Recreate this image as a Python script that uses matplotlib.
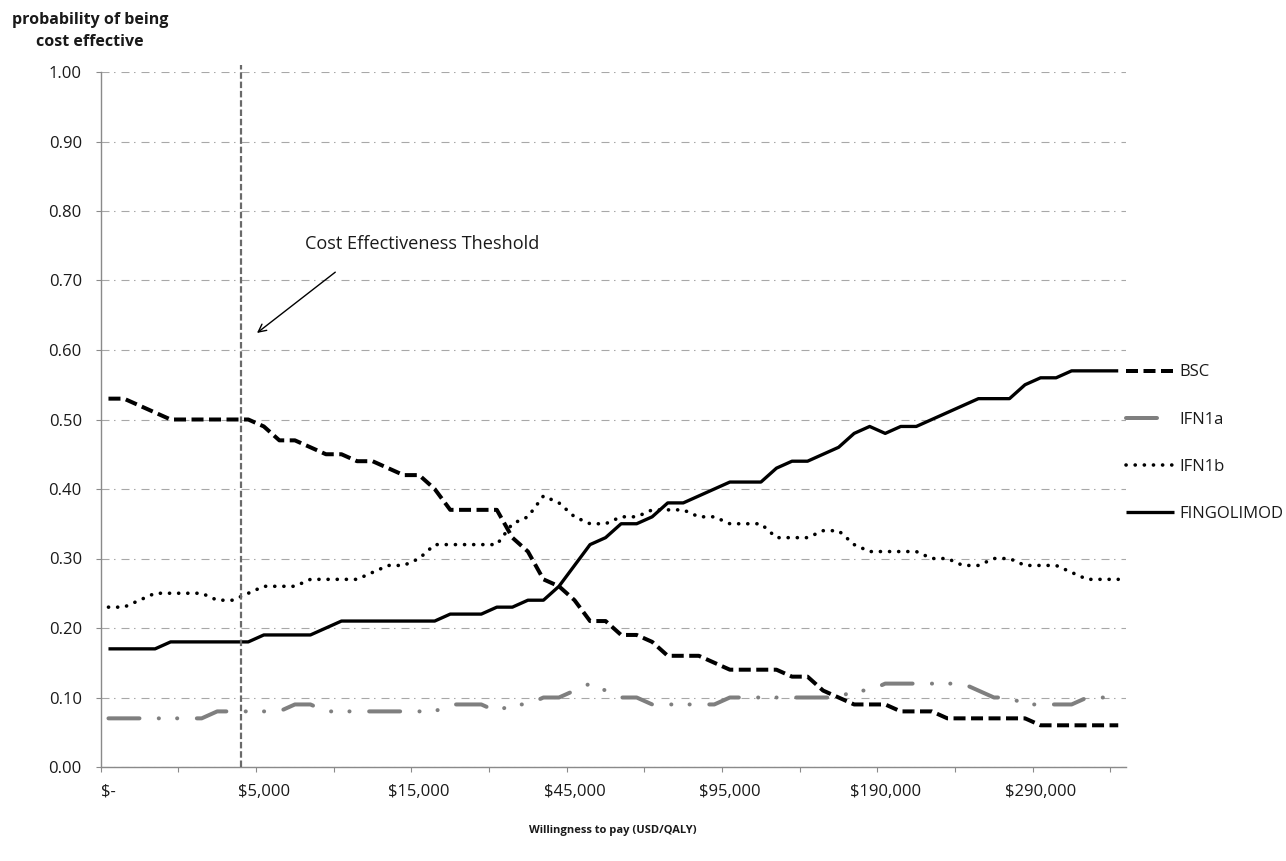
import matplotlib
matplotlib.use("Agg")
import matplotlib.pyplot as plt
import numpy as np

plt.rcParams['font.family'] = ['Open Sans', 'DejaVu Sans']
plt.rcParams['lines.scale_dashes'] = False

# ---------------- data ----------------
tick_positions = [0, 10, 20, 30, 40, 50, 60]
tick_labels = ["$-", "$5,000", "$15,000", "$45,000", "$95,000", "$190,000", "$290,000"]
n_categories = 66

bsc = [0.53, 0.53, 0.52, 0.51, 0.50, 0.50, 0.50, 0.50, 0.50, 0.50,
       0.49, 0.47, 0.47, 0.46, 0.45, 0.45, 0.44, 0.44, 0.43, 0.42,
       0.42, 0.40, 0.37, 0.37, 0.37, 0.37, 0.33, 0.31, 0.27, 0.26,
       0.24, 0.21, 0.21, 0.19, 0.19, 0.18, 0.16, 0.16, 0.16, 0.15,
       0.14, 0.14, 0.14, 0.14, 0.13, 0.13, 0.11, 0.10, 0.09, 0.09,
       0.09, 0.08, 0.08, 0.08, 0.07, 0.07, 0.07, 0.07, 0.07, 0.07,
       0.06, 0.06, 0.06, 0.06, 0.06, 0.06]

ifn1a = [0.07, 0.07, 0.07, 0.07, 0.07, 0.07, 0.07, 0.08, 0.08, 0.08,
         0.08, 0.08, 0.09, 0.09, 0.08, 0.08, 0.08, 0.08, 0.08, 0.08,
         0.08, 0.08, 0.09, 0.09, 0.09, 0.08, 0.09, 0.09, 0.10, 0.10,
         0.11, 0.12, 0.11, 0.10, 0.10, 0.09, 0.09, 0.09, 0.09, 0.09,
         0.10, 0.10, 0.10, 0.10, 0.10, 0.10, 0.10, 0.10, 0.11, 0.11,
         0.12, 0.12, 0.12, 0.12, 0.12, 0.12, 0.11, 0.10, 0.10, 0.09,
         0.09, 0.09, 0.09, 0.10, 0.10, 0.10]

ifn1b = [0.23, 0.23, 0.24, 0.25, 0.25, 0.25, 0.25, 0.24, 0.24, 0.25,
         0.26, 0.26, 0.26, 0.27, 0.27, 0.27, 0.27, 0.28, 0.29, 0.29,
         0.30, 0.32, 0.32, 0.32, 0.32, 0.32, 0.35, 0.36, 0.39, 0.38,
         0.36, 0.35, 0.35, 0.36, 0.36, 0.37, 0.37, 0.37, 0.36, 0.36,
         0.35, 0.35, 0.35, 0.33, 0.33, 0.33, 0.34, 0.34, 0.32, 0.31,
         0.31, 0.31, 0.31, 0.30, 0.30, 0.29, 0.29, 0.30, 0.30, 0.29,
         0.29, 0.29, 0.28, 0.27, 0.27, 0.27]

fingolimod = [0.17, 0.17, 0.17, 0.17, 0.18, 0.18, 0.18, 0.18, 0.18, 0.18,
              0.19, 0.19, 0.19, 0.19, 0.20, 0.21, 0.21, 0.21, 0.21, 0.21,
              0.21, 0.21, 0.22, 0.22, 0.22, 0.23, 0.23, 0.24, 0.24, 0.26,
              0.29, 0.32, 0.33, 0.35, 0.35, 0.36, 0.38, 0.38, 0.39, 0.40,
              0.41, 0.41, 0.41, 0.43, 0.44, 0.44, 0.45, 0.46, 0.48, 0.49,
              0.48, 0.49, 0.49, 0.50, 0.51, 0.52, 0.53, 0.53, 0.53, 0.55,
              0.56, 0.56, 0.57, 0.57, 0.57, 0.57]

threshold_category = 8.5
annotation_text = "Cost Effectiveness Theshold"

# ---------------- figure ----------------
PT = 0.72  # points per pixel at dpi=100
fig = plt.figure(figsize=(12.86, 8.61), dpi=100)
ax = fig.add_axes([100.7 / 1286, 94 / 861, (1126 - 100.7) / 1286, 695 / 861])

x = np.arange(n_categories)
text_color = '#1a1a1a'
axis_color = '#8a8a8a'

ax.plot(x, bsc, color='black', lw=4 * PT, dashes=(12 * PT, 5.5 * PT),
        dash_capstyle='butt', solid_joinstyle='round', label='BSC', zorder=3)
ax.plot(x, ifn1a, color='#7f7f7f', lw=4 * PT,
        dashes=(31 * PT, 19.3 * PT, 0.1, 18.2 * PT, 0.1, 19.6 * PT),
        dash_capstyle='round', label='IFN1a', zorder=3)
ax.plot(x, ifn1b, color='black', lw=3.6 * PT, dashes=(0.1, 9 * PT),
        dash_capstyle='round', label='IFN1b', zorder=3)
ax.plot(x, fingolimod, color='black', lw=3.3 * PT, solid_joinstyle='round',
        solid_capstyle='butt', label='FINGOLIMOD', zorder=3)

ax.set_xlim(-0.5, n_categories - 0.5)
ax.set_ylim(0, 1)

# grid
ax.set_yticks(np.arange(0, 1.001, 0.1))
ax.yaxis.grid(True, color='#a8a8a8', lw=1.1 * PT,
              linestyle=(0, (8 * PT, 4.5 * PT, 1.5 * PT, 6 * PT)))
ax.set_axisbelow(True)
ax.set_yticklabels([f"{v:.2f}" for v in np.arange(0, 1.001, 0.1)])

ax.set_xticks(tick_positions)
ax.set_xticklabels(tick_labels)
ax.set_xticks(np.arange(-0.5, n_categories - 1, 5), minor=True)
ax.tick_params(axis='x', which='major', length=0, pad=12, labelsize=12,
               labelcolor=text_color)
ax.tick_params(axis='x', which='minor', length=5 * PT, width=1.1 * PT,
               color=axis_color, direction='out')
ax.tick_params(axis='y', which='major', length=5 * PT, width=1.1 * PT,
               color=axis_color, pad=10, labelsize=12, labelcolor=text_color)

for s in ['top', 'right']:
    ax.spines[s].set_visible(False)
for s in ['left', 'bottom']:
    ax.spines[s].set_color(axis_color)
    ax.spines[s].set_linewidth(1.4 * PT)

# threshold line
ax.axvline(threshold_category, ymin=0, ymax=1.01, color='#6a6a6a', lw=2.2 * PT,
           dashes=(6.5 * PT, 2.8 * PT), clip_on=False, zorder=4)

# annotation
ax.text(12.65, 0.7525, annotation_text, fontsize=13.1, color=text_color,
        ha='left', va='center')
ax.annotate('', xy=(9.56, 0.6245), xytext=(14.6, 0.712),
            arrowprops=dict(arrowstyle='->', color='black', lw=1.0,
                            mutation_scale=14, shrinkA=0, shrinkB=0))

# legend
leg = ax.legend(loc='center left', bbox_to_anchor=(1.0, 0.466), frameon=False,
                fontsize=12, handlelength=2.88, handletextpad=0.35,
                labelspacing=1.87, borderpad=0, borderaxespad=0)
for t in leg.get_texts():
    t.set_color(text_color)

# axis titles
fig.text(613 / 1286, 1 - 831 / 861, "Willingness to pay (USD/QALY)",
         fontsize=8, fontweight='bold', ha='center', va='center', color=text_color)
fig.text(90 / 1286, 1 - 31.5 / 861, "probability of being\ncost effective",
         fontsize=11.5, fontweight='bold', ha='center', va='center',
         multialignment='center', linespacing=1.5, color=text_color)

fig.savefig("out.png", dpi=100)
